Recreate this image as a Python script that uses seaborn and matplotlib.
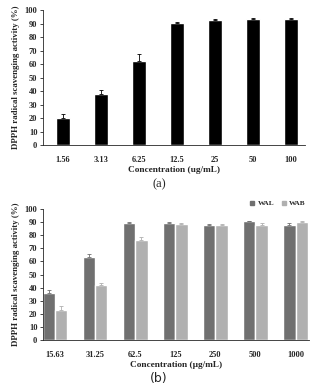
import numpy as np
import seaborn as sns
import pandas as pd
import matplotlib.pyplot as plt
from matplotlib.lines import Line2D

sns.set_style('ticks')
plt.rcParams['font.family'] = ['Liberation Serif', 'DejaVu Serif']
plt.rcParams['font.weight'] = 'bold'

# panel (a)
conc_a = ['1.56', '3.13', '6.25', '12.5', '25', '50', '100']
act_a = [20.0, 38.0, 62.0, 90.5, 92.5, 93.7, 93.7]
err_a = [3.0, 2.5, 5.5, 0.7, 1.0, 0.5, 0.8]

# panel (b)
conc_b = ['15.63', '31.25', '62.5', '125', '250', '500', '1000']
wal = [36.0, 63.5, 89.5, 89.0, 87.5, 90.5, 87.5]
wal_err = [2.5, 2.5, 0.7, 1.2, 0.8, 0.5, 1.8]
wab = [23.0, 42.0, 76.5, 88.5, 87.7, 88.0, 90.0]
wab_err = [3.0, 1.2, 1.8, 1.0, 0.8, 1.0, 0.7]

fs = 6
ylab = 'DPPH radical scavenging activity (%)'

fig = plt.figure(figsize=(3.18, 3.9), dpi=100)
ax1 = fig.add_axes([0.135, 0.628, 0.824, 0.346])
ax2 = fig.add_axes([0.135, 0.128, 0.836, 0.336])


def style(ax, xlab):
    ax.set_ylim(0, 100)
    ax.set_yticks(range(0, 101, 10))
    sns.despine(ax=ax)
    ax.tick_params(axis='y', labelsize=fs, length=2, width=0.6, pad=2)
    ax.tick_params(axis='x', labelsize=fs, length=0, pad=8)
    ax.set_ylabel(ylab, fontsize=6.4, fontweight='bold', labelpad=3)
    ax.set_xlabel(xlab, fontsize=6.7, fontweight='bold', labelpad=1.5)
    for s in ['left', 'bottom']:
        ax.spines[s].set_linewidth(0.6)
    for t in ax.get_xticklabels() + ax.get_yticklabels():
        t.set_fontweight('bold')


F = pd.DataFrame({'conc': conc_a, 'act': act_a})
sns.barplot(data=F, x='conc', y='act', color='black', width=0.39,
            saturation=1, ax=ax1, errorbar=None)
xs = np.arange(len(conc_a))
ax1.errorbar(xs, act_a, yerr=[np.zeros(len(err_a)), err_a], fmt='none',
             ecolor='black', elinewidth=0.6, capsize=1.5, capthick=0.6)
ax1.set_xlim(-0.53, 6.37)
style(ax1, 'Concentration (ug/mL)')
fig.text(0.5, 0.527, '(a)', ha='center', va='center', fontsize=9,
         fontweight='normal')

G = pd.DataFrame({'conc': conc_b * 2, 'act': wal + wab,
                  'sample': ['WAL'] * 7 + ['WAB'] * 7})
colors = {'WAL': '#707070', 'WAB': '#b0b0b0'}
sns.barplot(data=G, x='conc', y='act', hue='sample', palette=colors,
            width=0.62, saturation=1, ax=ax2, errorbar=None, legend=False)
errs = wal_err + wab_err
vals = wal + wab
for p, v, e in zip(ax2.patches[:14], vals, errs):
    cx = p.get_x() + p.get_width() / 2
    ax2.errorbar([cx], [v], yerr=[[0], [e]], fmt='none', ecolor=p.get_facecolor(),
                 elinewidth=0.6, capsize=1.2, capthick=0.6)
ax2.set_xlim(-0.3, 6.33)
style(ax2, 'Concentration (\u00b5g/mL)')
handles = [Line2D([], [], marker='s', ls='', color=colors[k], markersize=3.2)
           for k in ['WAL', 'WAB']]
ax2.legend(handles, ['WAL', 'WAB'], ncol=2, frameon=False, loc='lower right',
           bbox_to_anchor=(1.0, 1.0), handletextpad=0.2, handlelength=1.0,
           columnspacing=0.9, borderpad=0, borderaxespad=0.4,
           prop={'weight': 'bold', 'size': 5.2})
fig.text(0.5, 0.03, '(b)', ha='center', va='center', fontsize=9,
         fontweight='normal', family='DejaVu Sans')

fig.savefig('out.png', dpi=100)
